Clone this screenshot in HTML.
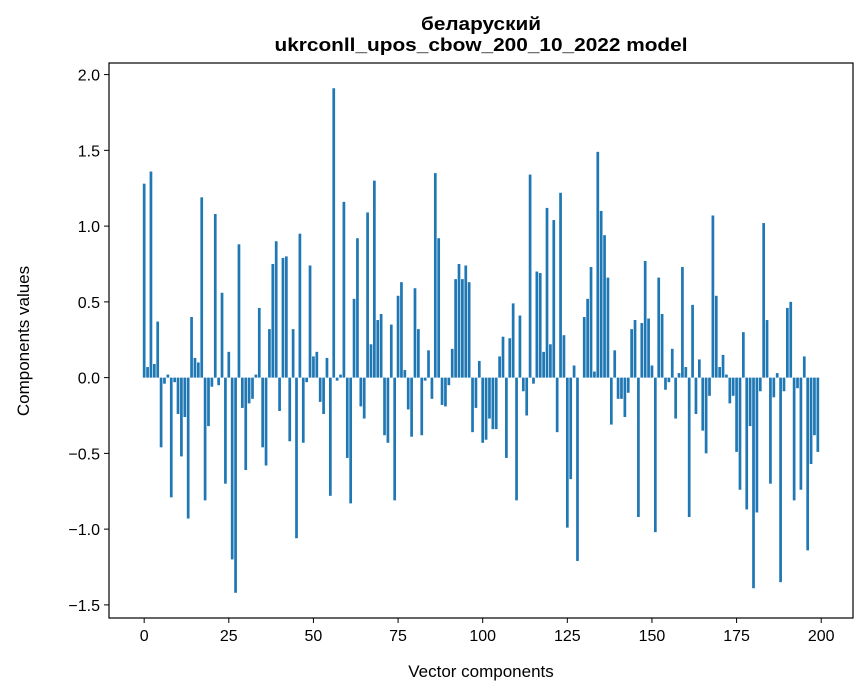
<!DOCTYPE html>
<html><head><meta charset="utf-8">
<style>
body{margin:0;background:#fff;}
svg{display:block;font-family:"Liberation Sans","DejaVu Sans",sans-serif;}
</style></head>
<body>
<svg id="chart" width="867" height="696">
<text x="481" y="30" text-anchor="middle" font-size="18" font-weight="bold" textLength="120" lengthAdjust="spacingAndGlyphs">беларуский</text>
<text x="481" y="51" text-anchor="middle" font-size="18" font-weight="bold" textLength="413" lengthAdjust="spacingAndGlyphs">ukrconll_upos_cbow_200_10_2022 model</text>
<g id="bars"></g>
<g id="axes"></g>
<text x="481" y="677" text-anchor="middle" font-size="17">Vector components</text>
<text transform="translate(29,341) rotate(-90)" text-anchor="middle" font-size="17">Components values</text>
</svg>
<script>
const values = [1.28,0.07,1.36,0.09,0.37,-0.46,-0.04,0.02,-0.79,-0.03,
-0.24,-0.52,-0.26,-0.93,0.40,0.13,0.10,1.19,-0.81,-0.32,
-0.06,1.08,-0.05,0.56,-0.70,0.17,-1.20,-1.42,0.88,-0.20,
-0.61,-0.17,-0.14,0.02,0.46,-0.46,-0.58,0.32,0.75,0.90,
-0.22,0.79,0.80,-0.42,0.32,-1.06,0.95,-0.43,-0.03,0.74,
0.14,0.17,-0.16,-0.24,0.13,-0.78,1.91,-0.02,0.02,1.16,
-0.53,-0.83,0.52,0.92,-0.19,-0.27,1.09,0.22,1.30,0.38,
0.42,-0.38,-0.43,0.35,-0.81,0.54,0.63,0.05,-0.21,-0.39,
0.59,0.32,-0.38,-0.02,0.18,-0.14,1.35,0.92,-0.18,-0.19,
-0.05,0.19,0.65,0.75,0.65,0.74,0.63,-0.36,-0.20,0.11,
-0.43,-0.41,-0.27,-0.34,-0.34,0.14,0.27,-0.53,0.26,0.49,
-0.81,0.41,-0.09,-0.25,1.34,-0.04,0.70,0.69,0.17,1.12,
0.22,1.04,-0.36,1.22,0.28,-0.99,-0.67,0.08,-1.21,0.0,
0.40,0.52,0.73,0.04,1.49,1.10,0.94,0.66,-0.31,0.18,
-0.14,-0.14,-0.26,-0.10,0.32,0.38,-0.92,0.36,0.77,0.39,
0.08,-1.02,0.66,0.42,-0.08,-0.03,0.19,-0.27,0.03,0.73,
0.07,-0.92,0.48,-0.24,0.12,-0.35,-0.50,-0.12,1.07,0.54,
0.07,0.15,0.02,-0.17,-0.12,-0.49,-0.74,0.30,-0.87,-0.32,
-1.39,-0.89,-0.09,1.02,0.38,-0.70,-0.13,0.03,-1.35,-0.09,
0.46,0.50,-0.81,-0.07,-0.74,0.14,-1.14,-0.57,-0.38,-0.49];
const xTicks = [0,25,50,75,100,125,150,175,200];
const yTicks = [-1.5,-1.0,-0.5,0.0,0.5,1.0,1.5,2.0];
const yTickLabels = ["−1.5","−1.0","−0.5","0.0","0.5","1.0","1.5","2.0"];

const NS="http://www.w3.org/2000/svg";
const L=109,R=853,T=63,B=618;
const n=values.length;
const xmin=-0.4-0.05*(n-1+0.8), xmax=n-1+0.4+0.05*(n-1+0.8);
const vmin=Math.min(0,...values), vmax=Math.max(0,...values);
const ymin=vmin-0.05*(vmax-vmin), ymax=vmax+0.05*(vmax-vmin);
const xs=v=>L+(v-xmin)/(xmax-xmin)*(R-L);
const ys=v=>B-(v-ymin)/(ymax-ymin)*(B-T);
const bars=document.getElementById('bars');
values.forEach((v,i)=>{
  const r=document.createElementNS(NS,'rect');
  const x0=xs(i-0.4),x1=xs(i+0.4);
  r.setAttribute('x',x0);r.setAttribute('width',x1-x0);
  r.setAttribute('y',Math.min(ys(v),ys(0)));
  r.setAttribute('height',Math.abs(ys(v)-ys(0)));
  r.setAttribute('fill','#1f77b4');
  
  
  bars.appendChild(r);
});
const ax=document.getElementById('axes');
const fr=document.createElementNS(NS,'rect');
fr.setAttribute('x',L);fr.setAttribute('y',T);fr.setAttribute('width',R-L);fr.setAttribute('height',B-T);
fr.setAttribute('fill','none');fr.setAttribute('stroke','#000');fr.setAttribute('stroke-width','1.2');


ax.appendChild(fr);
xTicks.forEach(t=>{
  const x=xs(t);
  const l=document.createElementNS(NS,'line');
  l.setAttribute('x1',x);l.setAttribute('x2',x);l.setAttribute('y1',B);l.setAttribute('y2',B+5);
  l.setAttribute('stroke','#000');
  
  
  ax.appendChild(l);
  const tx=document.createElementNS(NS,'text');
  tx.setAttribute('x',x);tx.setAttribute('y',B+23);tx.setAttribute('text-anchor','middle');tx.setAttribute('font-size','16');
  tx.textContent=t;
  
  
  ax.appendChild(tx);
});
yTicks.forEach((t,k)=>{
  const y=ys(t);
  const l=document.createElementNS(NS,'line');
  l.setAttribute('x1',L-5);l.setAttribute('x2',L);l.setAttribute('y1',y);l.setAttribute('y2',y);
  l.setAttribute('stroke','#000');
  
  
  ax.appendChild(l);
  const tx=document.createElementNS(NS,'text');
  tx.setAttribute('x',L-9);tx.setAttribute('y',y+6);tx.setAttribute('text-anchor','end');tx.setAttribute('font-size','16');
  tx.textContent=yTickLabels[k];
  
  
  ax.appendChild(tx);
});
</script>
</body></html>
